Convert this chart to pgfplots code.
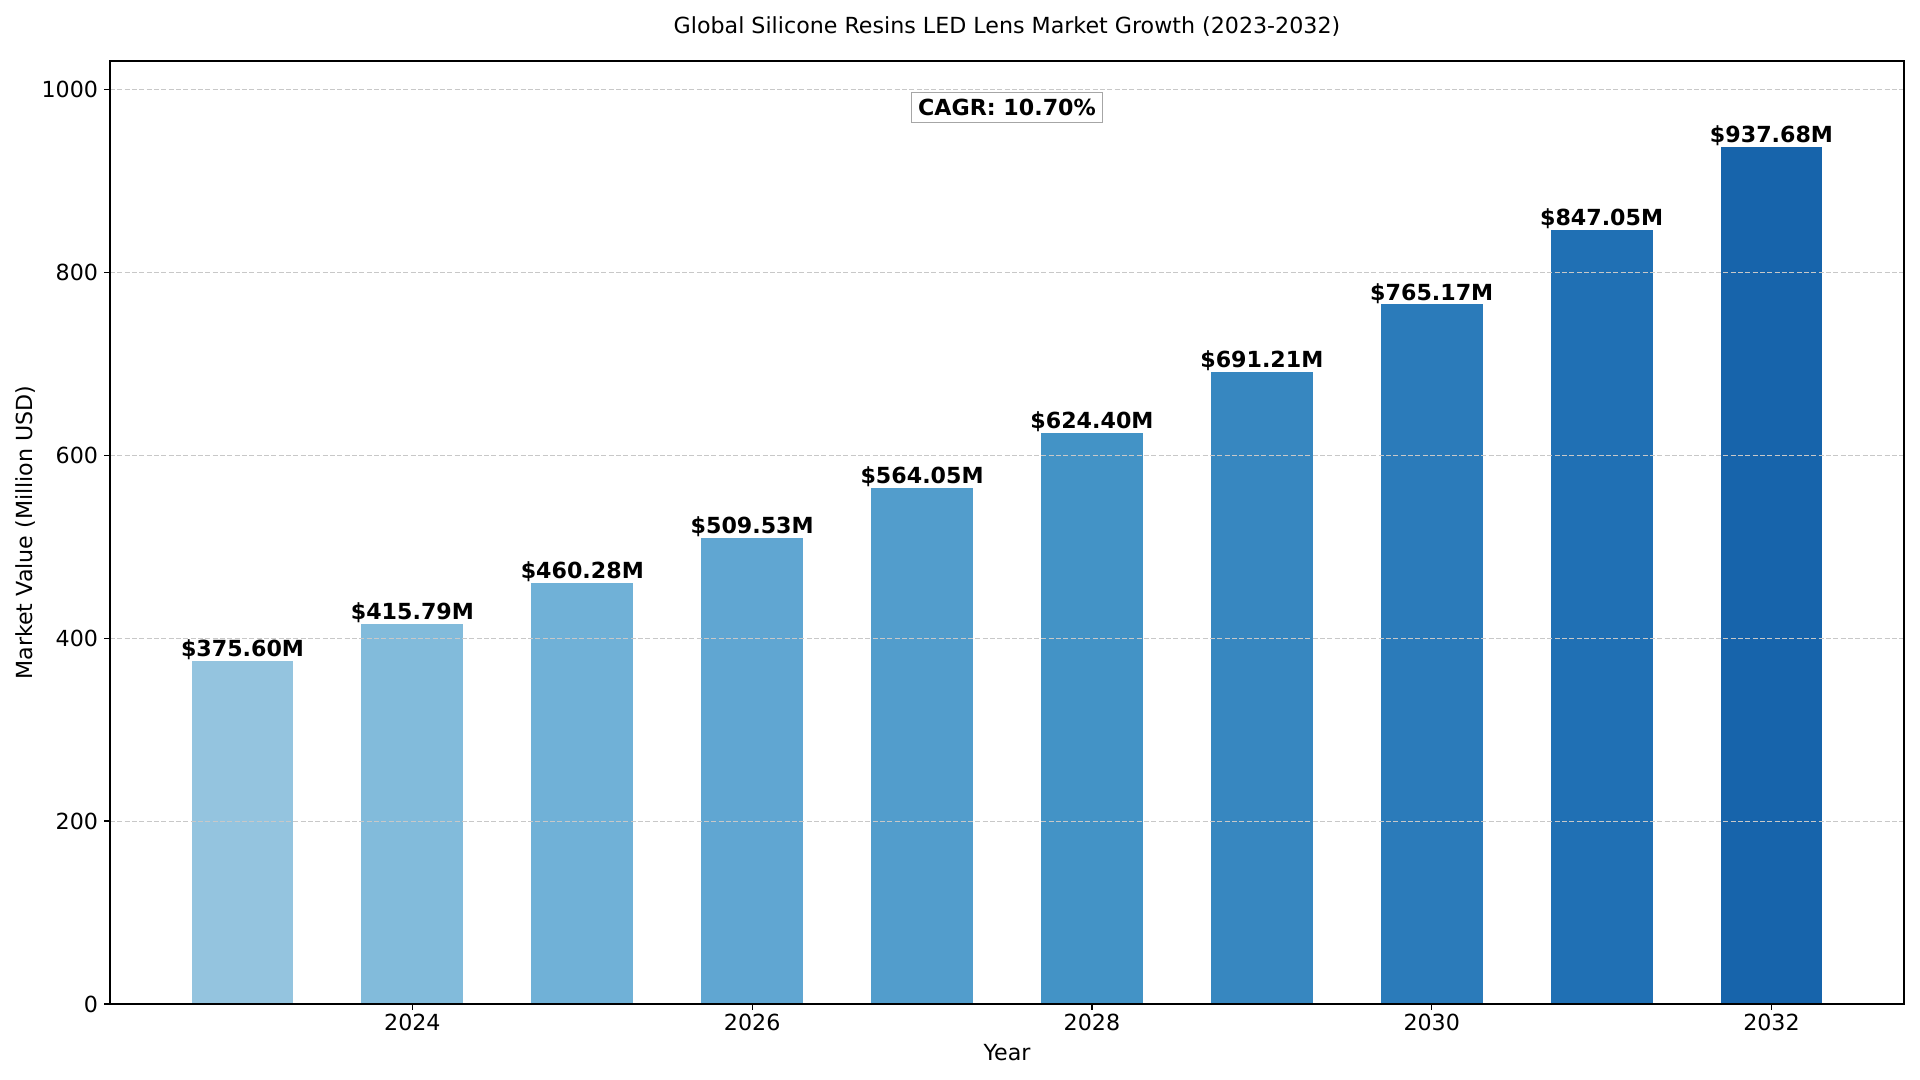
\documentclass[border=0pt]{standalone}
\usepackage{fontspec}
\setmainfont{DejaVu Sans}
\usepackage{pgfplots}
\pgfplotsset{compat=1.18}
\definecolor{b1}{RGB}{148,196,223}
\definecolor{b2}{RGB}{130,187,219}
\definecolor{b3}{RGB}{112,177,215}
\definecolor{b4}{RGB}{96,166,210}
\definecolor{b5}{RGB}{82,157,204}
\definecolor{b6}{RGB}{67,147,198}
\definecolor{b7}{RGB}{55,135,192}
\definecolor{b8}{RGB}{43,123,186}
\definecolor{b9}{RGB}{32,112,180}
\definecolor{b10}{RGB}{23,100,171}
\definecolor{gridc}{RGB}{200,200,200}
\newcommand{\fs}{\fontsize{13.3}{16}\selectfont}
\newcommand{\mybar}[4]{\addplot[fill=#1, draw=none, bar shift=0pt, nodes near coords={\$#4M}] coordinates {(#2,#3)};}
\begin{document}
\begin{tikzpicture}
\useasboundingbox (-66pt,-45.6pt) rectangle (1086pt,602.4pt);
\begin{axis}[
  scale only axis, width=1076.4pt, height=565.8pt,
  at={(0pt,0pt)}, anchor=south west,
  xmin=2022.22, xmax=2032.78, ymin=0, ymax=1031.45,
  ybar, bar width=0.6,
  xtick={2024,2026,2028,2030,2032},
  ytick={0,200,400,600,800,1000},
  tick align=outside, tick pos=left, major tick length=3.5pt,
  every tick/.style={black, line width=0.8pt},
  axis line style={line width=0.8pt},
  ymajorgrids, grid style={gridc, line width=0.6pt, dash pattern=on 3pt off 1.4pt},
  axis on top,
  ticklabel style={font=\fs},
  /pgf/number format/assume math mode=true,
  /pgf/number format/1000 sep={},
  xticklabel style={anchor=base, yshift=-12.7pt},
  yticklabel style={anchor=east, inner sep=0pt, xshift=-3.5pt},
  xlabel={Year}, ylabel={Market Value (Million USD)},
  x label style={at={(axis description cs:0.5,-0.0594)}, anchor=base, font=\fs},
  y label style={at={(axis description cs:-0.0433,0.5)}, anchor=base, font=\fs},
  title={Global Silicone Resins LED Lens Market Growth (2023-2032)},
  title style={at={(axis description cs:0.5,1.0184)}, anchor=base, font=\fs},
  every node near coord/.style={font=\fs\bfseries, anchor=base, inner sep=0pt, yshift=2.6pt, text=black},
]
\mybar{b1}{2023}{375.60}{375.60}
\mybar{b2}{2024}{415.79}{415.79}
\mybar{b3}{2025}{460.28}{460.28}
\mybar{b4}{2026}{509.53}{509.53}
\mybar{b5}{2027}{564.05}{564.05}
\mybar{b6}{2028}{624.40}{624.40}
\mybar{b7}{2029}{691.21}{691.21}
\mybar{b8}{2030}{765.17}{765.17}
\mybar{b9}{2031}{847.05}{847.05}
\mybar{b10}{2032}{937.68}{937.68}
\node[draw=gray!70, fill=white, line width=0.8pt, inner sep=3.9pt, font=\fs\bfseries, anchor=center] at (axis description cs:0.5,0.9505) {CAGR: 10.70\%};
\end{axis}
\end{tikzpicture}
\end{document}
